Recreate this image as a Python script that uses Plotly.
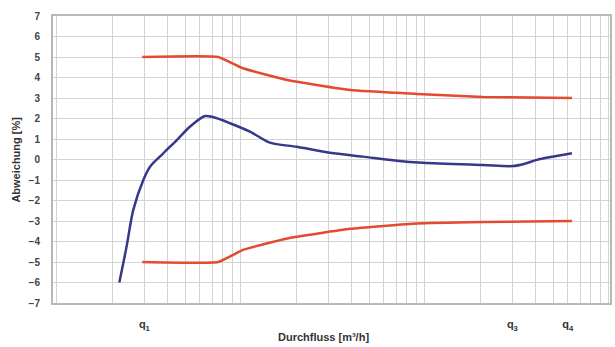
import numpy as np
import plotly.graph_objects as go

# Measured deviation curve (flow in m³/h, deviation in %)
flow_meas = [0.01096, 0.0120, 0.01305, 0.0148, 0.0161, 0.0190, 0.0225, 0.0265, 0.0320,
             0.0354, 0.0438, 0.0562, 0.0722, 0.101, 0.153, 0.231, 0.353, 0.49, 1.04,
             1.51, 1.76, 2.04, 3.16]
dev_meas = [-6.0, -4.25, -2.46, -1.0, -0.35, 0.30, 0.95, 1.6, 2.12,
            2.07, 1.77, 1.36, 0.82, 0.62, 0.33, 0.14, -0.06, -0.16, -0.27,
            -0.32, -0.2, -0.02, 0.3]

# Error limits
flow_limit = [0.0146, 0.0377, 0.0515, 0.0893, 0.197, 0.455, 1.04, 3.16]
upper_limit = [5.0, 5.0, 4.45, 3.88, 3.39, 3.2, 3.05, 3.0]
lower_limit = [-5.0, -5.0, -4.41, -3.85, -3.38, -3.12, -3.05, -3.0]

# Axis grid / labels
grid_mult = [1, 1.5, 2, 2.5, 3, 3.5, 4, 4.5, 5]
grid_decades = [0.01, 0.1, 1]
q_labels = {0.015: "q<sub>1</sub>", 1.5: "q<sub>3</sub>", 3.0: "q<sub>4</sub>"}
y_ticks = list(range(-7, 8))

tickvals = [0.005] + [round(m * d, 6) for d in grid_decades for m in grid_mult]
ticktext = [q_labels.get(v, "") for v in tickvals]

red = "#e34a2e"
blue = "#38388a"

fig = go.Figure()
for lim in (upper_limit, lower_limit):
    fig.add_trace(go.Scatter(x=flow_limit, y=lim, mode="lines",
                             line=dict(color=red, width=2.5, shape="spline", smoothing=0.35),
                             showlegend=False))
fig.add_trace(go.Scatter(x=flow_meas, y=dev_meas, mode="lines",
                         line=dict(color=blue, width=2.5, shape="spline", smoothing=0.8),
                         showlegend=False))

xr = [-2 - 59 / 184, -2 + 498 / 184]

fig.update_layout(
    width=615, height=347,
    margin=dict(l=53, r=5, t=16, b=44, autoexpand=False),
    paper_bgcolor="white", plot_bgcolor="white",
    font=dict(family="Liberation Sans, Arial, sans-serif", size=9, color="#333333"),
    xaxis=dict(
        type="log", range=xr, automargin=False,
        tickmode="array", tickvals=tickvals, ticktext=ticktext,
        showgrid=True, gridcolor="#d3d3d3", gridwidth=1,
        showline=True, linecolor="#b8b8b8", linewidth=2, mirror=True,
        ticks="", ticklabelstandoff=10,
        tickfont=dict(size=11, weight="bold", color="#333333"),
        zeroline=False,
    ),
    yaxis=dict(
        range=[-7, 7], tickmode="array", tickvals=y_ticks, automargin=False,
        showgrid=True, gridcolor="#d3d3d3", gridwidth=1,
        showline=True, linecolor="#b8b8b8", linewidth=2, mirror=True,
        ticks="", ticklabelstandoff=9,
        tickfont=dict(size=10, weight="bold", color="#444444"),
        zeroline=False,
    ),
    annotations=[
        dict(text="Durchfluss [m³/h]", xref="paper", yref="paper", x=0.486, y=-0.118,
             xanchor="center", yanchor="middle", showarrow=False,
             font=dict(size=11, weight="bold", color="#333333")),
        dict(text="Abweichung [%]", xref="paper", yref="paper", x=-0.068, y=0.5,
             xanchor="center", yanchor="middle", textangle=-90, showarrow=False,
             font=dict(size=11, weight="bold", color="#333333")),
    ],
)

fig.write_html("out.html", config={"displayModeBar": False},
               post_script="document.body.style.margin='0';document.body.style.overflow='hidden';")
